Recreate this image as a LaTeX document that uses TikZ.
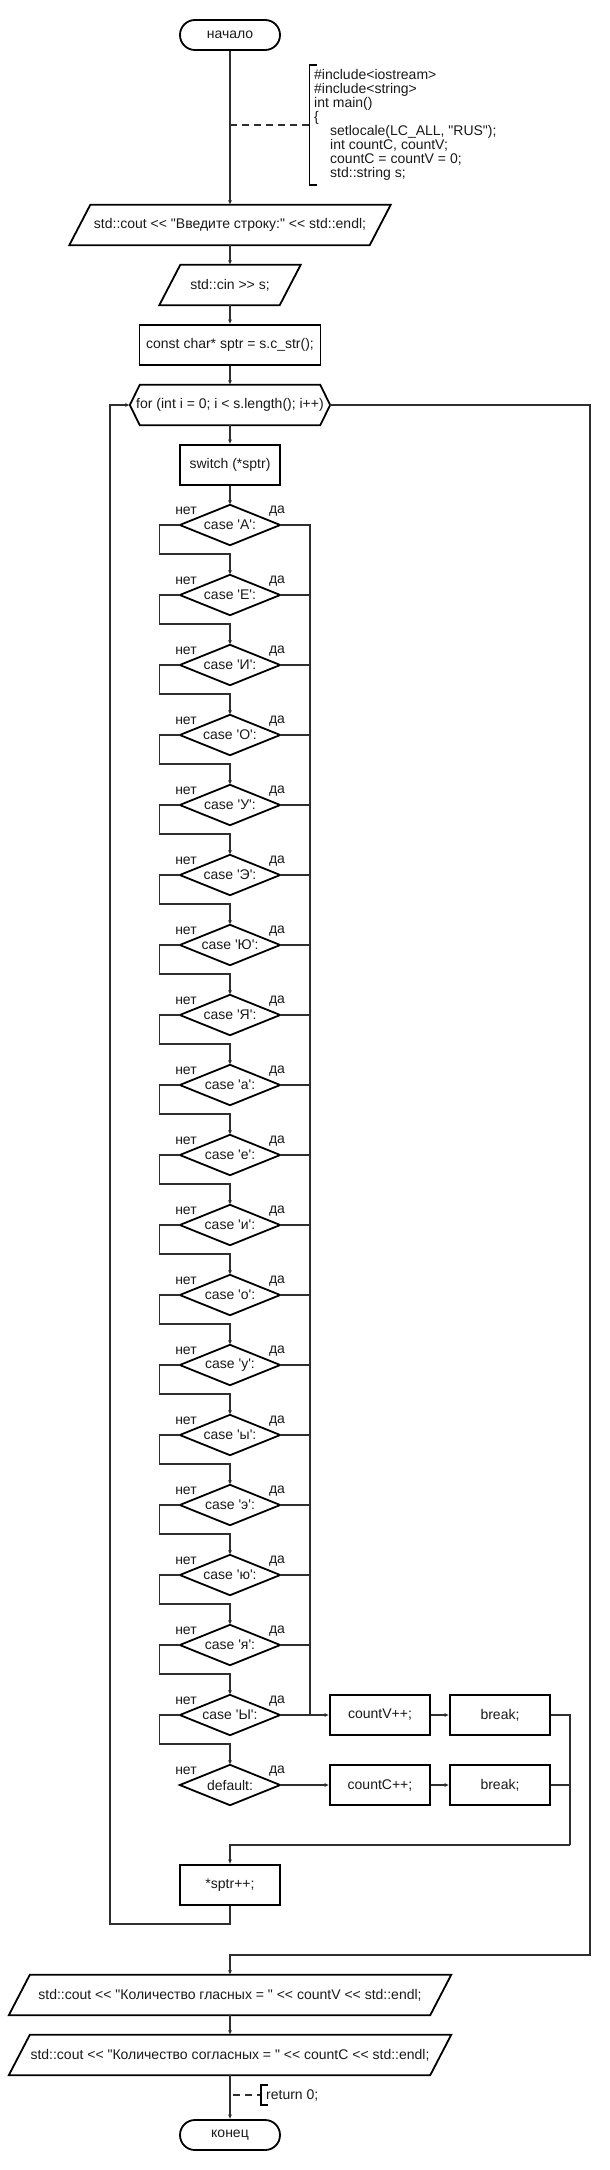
\documentclass[tikz,border=0pt]{standalone}
\usepackage{fontspec}
\newfontfamily\af{Liberation Sans}
\usetikzlibrary{arrows.meta}
\begin{document}
\begin{tikzpicture}[x=1pt,y=-1pt,
  every node/.style={font=\fontsize{14}{14}\selectfont\af, inner sep=0pt, text=black!90},
  shp/.style={draw=black, line width=1.8pt, line join=miter},
  ln/.style={draw=black!82, line width=1.3pt},
  arr/.style={ln, -{Latex[length=4.5pt,width=4pt]}},
  boxn/.style={minimum height=40pt},
  termn/.style={shp, minimum width=100pt, minimum height=30pt, rounded corners=14.9pt},
  dian/.style={minimum width=100pt, minimum height=40pt},
  lbl/.style={font=\fontsize{14}{14}\selectfont\af}
]
\useasboundingbox (0,0) rectangle (610,2170);

% start
\node[termn] (start) at (230,35) {начало};

% annotation top
\coordinate (a1) at (230,125);
\coordinate (a2) at (309.5,125);
\draw[ln, dash pattern=on 7pt off 5pt] (a1) -- (a2);
\draw[shp, line width=1.5pt] (317,65) -- (309.5,65) -- (309.5,185) -- (317,185);
\node[anchor=west, align=left] (code) at (314,125) {\#include<iostream>\\\#include<string>\\int main()\\\{\\\hspace*{16pt}setlocale(LC\_ALL, "RUS");\\\hspace*{16pt}int countC, countV;\\\hspace*{16pt}countC = countV = 0;\\\hspace*{16pt}std::string s;};

% parallelogram 1
\node[boxn, minimum width=300pt] (p1) at (230,225) {std::cout << "Введите строку:" << std::endl;};
\draw[shp] ([xshift=10.5pt]p1.north west) -- ([xshift=10.5pt]p1.north east) -- ([xshift=-10.5pt]p1.south east) -- ([xshift=-10.5pt]p1.south west) -- cycle;

% parallelogram 2
\node[boxn, minimum width=120pt] (p2) at (230,285) {std::cin >> s;};
\draw[shp] ([xshift=10.5pt]p2.north west) -- ([xshift=10.5pt]p2.north east) -- ([xshift=-10.5pt]p2.south east) -- ([xshift=-10.5pt]p2.south west) -- cycle;

% rect
\node[boxn, shp, minimum width=181pt] (r1) at (230,345) {const char* sptr = s.c\_str();};

% hexagon for
\node[boxn, minimum width=200pt] (for) at (230,405) {for (int i = 0; i < s.length(); i++)};
\draw[shp] (for.west) -- ([xshift=10pt]for.north west) -- ([xshift=-10pt]for.north east) -- (for.east) -- ([xshift=-10pt]for.south east) -- ([xshift=10pt]for.south west) -- cycle;

% switch
\node[boxn, shp, minimum width=100pt] (sw) at (230,465) {switch (*sptr)};

% diamonds
\foreach \i/\t in {0/case 'А':,1/case 'Е':,2/case 'И':,3/case 'О':,4/case 'У':,5/case 'Э':,6/case 'Ю':,7/case 'Я':,8/case 'а':,9/case 'е':,10/case 'и':,11/case 'о':,12/case 'у':,13/case 'ы':,14/case 'э':,15/case 'ю':,16/case 'я':,17/case 'Ы':,18/default:}{
  \node[dian] (d\i) at (230,{525+70*\i}) {\t};
  \draw[shp] (d\i.north) -- (d\i.east) -- (d\i.south) -- (d\i.west) -- cycle;
  \node[lbl] (n\i) at (186,{511+70*\i}) {нет};
  \node[lbl] (y\i) at (277,{511+70*\i}) {да};
}

\coordinate (vj) at (310,1715);

% boxes
\node[boxn, shp, minimum width=100pt] (cv) at (380,1715) {countV++;};
\node[boxn, shp, minimum width=100pt] (b1) at (500,1715) {break;};
\node[boxn, shp, minimum width=100pt] (cc) at (380,1785) {countC++;};
\node[boxn, shp, minimum width=100pt] (b2) at (500,1785) {break;};
\node[boxn, shp, minimum width=100pt] (sp) at (230,1885) {*sptr++;};

% output
\node[boxn, minimum width=421pt] (p3) at (230,1995) {std::cout << "Количество гласных = " << countV << std::endl;};
\draw[shp] ([xshift=10.5pt]p3.north west) -- ([xshift=10.5pt]p3.north east) -- ([xshift=-10.5pt]p3.south east) -- ([xshift=-10.5pt]p3.south west) -- cycle;
\node[boxn, minimum width=421pt] (p4) at (230,2055) {std::cout << "Количество согласных = " << countC << std::endl;};
\draw[shp] ([xshift=10.5pt]p4.north west) -- ([xshift=10.5pt]p4.north east) -- ([xshift=-10.5pt]p4.south east) -- ([xshift=-10.5pt]p4.south west) -- cycle;

\node[termn] (end) at (230,2135) {конец};

% return annotation
\coordinate (c1) at (230,2095);
\coordinate (c2) at (261,2095);
\draw[ln, dash pattern=on 7pt off 5pt] ([xshift=3pt]c1) -- (c2);
\draw[shp, line width=1.5pt] (268,2085) -- (261,2085) -- (261,2105) -- (268,2105);
\node[anchor=west] (ret) at (266,2095) {return 0;};

% connectors main flow
\draw[arr] (start) -- (p1);
\draw[arr] (p1) -- (p2);
\draw[arr] (p2) -- (r1);
\draw[arr] (r1) -- (for);
\draw[arr] (for) -- (sw);
\draw[arr] (sw) -- (d0);

\foreach \i in {0,...,17}{
  \pgfmathtruncatemacro\j{\i+1}
  \draw[arr] (d\i.west) -- ++(-20,0) -- ++(0,29) -| (d\j.north);
  \draw[ln] (d\i.east) -| (vj);
}
\draw[arr] (vj) -- (cv.west);
\draw[arr] (d18.east) -- (cc.west);
\draw[arr] (cv) -- (b1);
\draw[arr] (cc) -- (b2);
\coordinate (mj) at (570,1845);
\draw[ln] (b1.east) -| (mj);
\draw[ln] (b2.east) -| (mj);
\draw[arr] (mj) -| (sp.north);

% loop back
\coordinate (lb) at (110,1924);
\draw[arr] (sp.south) |- (lb) |- (for.west);

% exit
\coordinate (ex) at (590,1955);
\draw[arr] (for.east) -| (ex) -| (p3.north);

\draw[arr] (p3) -- (p4);
\draw[arr] (p4) -- (end);
\end{tikzpicture}
\end{document}
